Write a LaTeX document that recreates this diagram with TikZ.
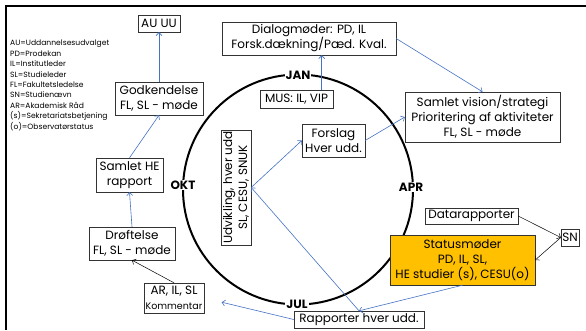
\documentclass[tikz,border=0pt]{standalone}
\usepackage{fontspec}
\setmainfont{Poppins}
\usetikzlibrary{arrows.meta}
\definecolor{blaa}{RGB}{68,114,196}
\definecolor{guld}{RGB}{255,192,0}

\begin{document}
\begin{tikzpicture}[x=1pt,y=-1pt,
  boks/.style={draw=black!80,rectangle,align=center,inner sep=1pt,font=\fontsize{12}{15}\selectfont},
  md/.style={fill=white,inner sep=1pt,font=\fontsize{12}{13}\selectfont\bfseries},
  pil/.style={-{Straight Barb[length=3pt,width=6pt]},draw=blaa,line width=0.6pt},
  spil/.style={-{Straight Barb[length=3pt,width=6pt]},draw=black,line width=0.5pt}]

\useasboundingbox (0,0) rectangle (586,330);
\draw[line width=2.5pt] (586,6) -- (6,6) -- (6,330);

% aarshjulet
\draw[line width=2pt] (298,189.5) circle[radius=115pt];
\path (298,75) node[md](jan){JAN} (411,187) node[md](apr){APR} (297,304) node[md](jul){JUL} (183,185) node[md](okt){OKT};

% forklaring
\node[anchor=north west,align=left,inner sep=0pt,font=\fontsize{7.6}{10.4}\selectfont] (forkl) at (10,40)
 {AU=Uddannelsesudvalget\\PD=Prodekan\\IL=Institutleder\\SL=Studieleder\\FL=Fakultetsledelse\\SN=Studienævn\\AR=Akademisk Råd\\(s)=Sekretariatsbetjening\\(o)=Observatørstatus};

% venstre side
\path (159,23.5) node[boks,minimum width=42,minimum height=17](au){AU UU}
      (159,98.5) node[boks,minimum width=88,minimum height=33](god){Godkendelse\\FL, SL - møde}
      (129.5,175) node[boks,minimum width=67,minimum height=34](she){Samlet HE\\rapport}
      (132,243.5) node[boks,minimum width=86,minimum height=33](dro){Drøftelse\\FL, SL - møde}
      (174,298) node[boks,minimum width=60,minimum height=30](ar){AR, IL, SL\\{\fontsize{9.5}{11}\selectfont Kommentar}};

% midten og hoejre side
\path (359,319.5) node[boks,minimum width=130,minimum height=17](rap){Rapporter hver udd.}
      (236,187.5) node[boks,rotate=90,minimum width=111,minimum height=30](udv){Udvikling, hver udd\\SL, CESU, SNUK}
      (333.5,140.5) node[boks,minimum width=63,minimum height=33](fors){Forslag\\Hver udd.}
      (482.5,117) node[boks,minimum width=155,minimum height=50](vis){Samlet vision/strategi\\Prioritering af aktiviteter\\FL, SL - møde}
      (309,38.5) node[boks,minimum width=174,minimum height=33](dia){Dialogmøder: PD, IL\\Forsk.dækning/Pæd. Kval.}
      (296.5,99) node[boks,minimum width=73,minimum height=18](mus){MUS: IL, VIP}
      (471.5,216) node[boks,minimum width=93,minimum height=16](data){Datarapporter}
      (570,237.5) node[boks,minimum width=18,minimum height=17](sn){SN}
      (462.5,260) node[boks,fill=guld,minimum width=145,minimum height=50](stat){Statusmøder\\PD, IL, SL,\\HE studier (s), CESU(o)};

\draw[pil] (god.north) -- (au.south);
\draw[pil] (she.north) -- (god.south);
\draw[pil] (dro.north) -- (she.south);
\draw[spil] (ar.north) -- (dro.south);
\draw[pil,shorten >=18pt] (rap.west) -- (ar.east);
\draw[pil] (rap.north) -- (udv.south);
\draw[pil] (udv.south) -- (fors.west);
\draw[pil] (fors.east) -- (vis.west);
\draw[pil] (dia.east) -- (vis.north);
\draw[pil] (mus.20) -- (mus.20 |- dia.south);
\draw[spil] (data.east) -- (sn.west);
\draw[spil] (sn.west) -- (stat.east);
\draw[pil] (stat.south) -- (rap.north);
\end{tikzpicture}
\end{document}
